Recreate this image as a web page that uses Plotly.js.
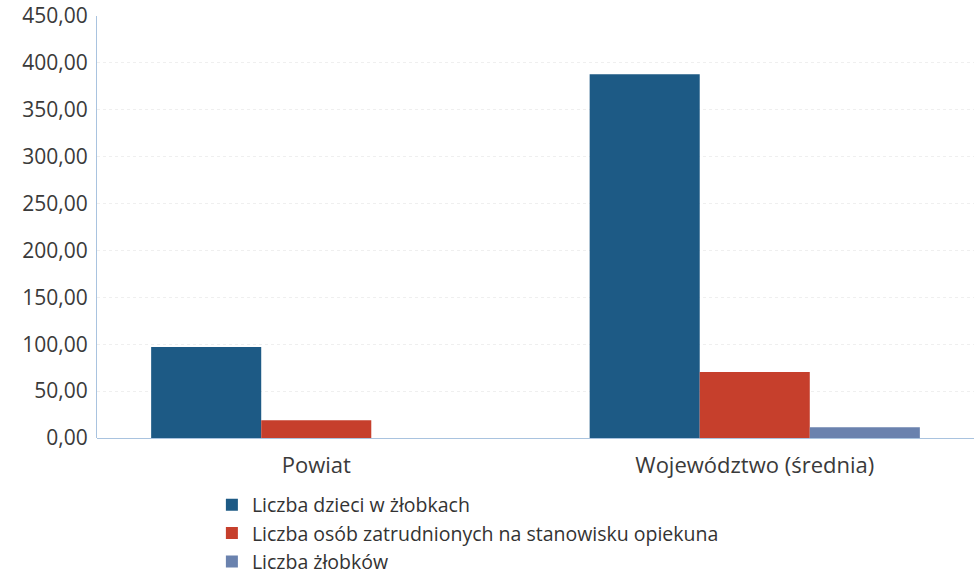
<!DOCTYPE html>
<html><head><meta charset="utf-8">
<script src="https://cdn.plot.ly/plotly-3.0.1.min.js"></script>
<style>body{margin:0;background:#fff}#chart{width:974px;height:578px}</style>
</head><body><div id="chart"></div>
<script>
const categories = ["Powiat", "Województwo (średnia)"];
const seriesNames = ["Liczba dzieci w żłobkach", "Liczba osób zatrudnionych na stanowisku opiekuna", "Liczba żłobków"];
const dzieci = [97, 388];
const opiekunowie = [19, 70.5];
const zlobki = [0, 11.5];
const colors = ["#1d5a85", "#c63f2c", "#6a82ae"];
const values = [dzieci, opiekunowie, zlobki];

const traces = values.map((v, i) => ({
  type: "bar", name: seriesNames[i], x: categories, y: v,
  marker: {color: colors[i], line: {width: 0}},
  hoverinfo: "none"
}));

const layout = {
  width: 974, height: 578,
  margin: {l: 97, r: 0, t: 16, b: 140, autoexpand: false},
  paper_bgcolor: "#fff", plot_bgcolor: "#fff",
  font: {family: "Open Sans, sans-serif", size: 21, color: "#3a3a3a"},
  separators: ",.",
  barmode: "group", bargap: 0.247, bargroupgap: 0,
  xaxis: {showline: false, showgrid: false, ticks: "", ticklabelstandoff: 12, tickfont: {size: 22, color: "#3a3a3a"}},
  yaxis: {range: [0, 450], dtick: 50, tickformat: ".2f", showline: true, linecolor: "#a9c3df", linewidth: 1,
          gridcolor: "#efefef", griddash: "dot", zeroline: true, zerolinecolor: "#a9c3df", zerolinewidth: 1,
          ticks: "", ticklen: 0, ticklabelstandoff: 4, tickfont: {size: 21, color: "#3a3a3a"}},
  showlegend: true,
  legend: {orientation: "v", x: 0.131, xanchor: "left", yref: "container", y: 0.16, yanchor: "top",
           font: {size: 19.5, color: "#333"}, tracegroupgap: 0, itemwidth: 30, bgcolor: "rgba(0,0,0,0)"}
};
Plotly.newPlot("chart", traces, layout, {displayModeBar: false, staticPlot: true});
</script></body></html>
